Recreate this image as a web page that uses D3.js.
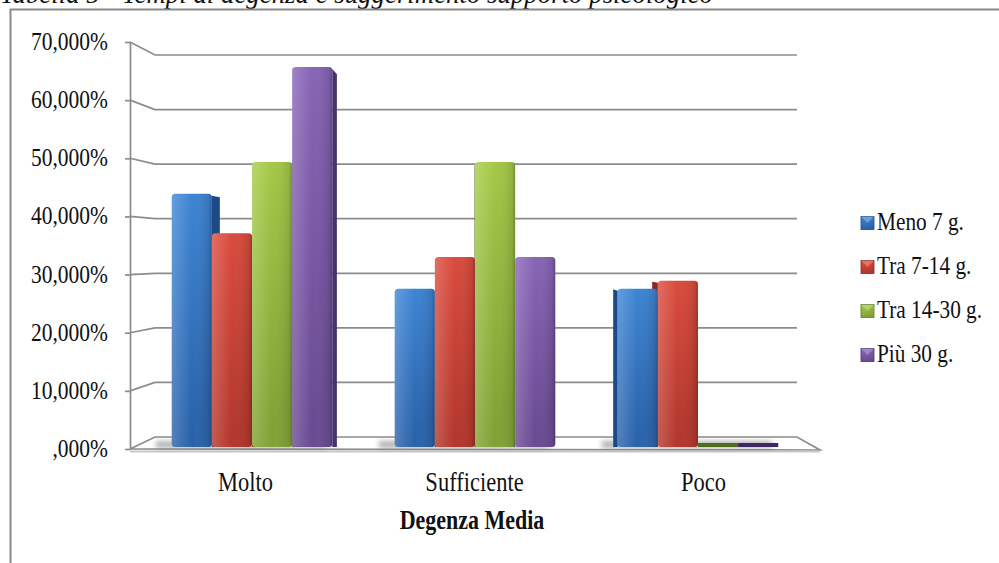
<!DOCTYPE html>
<html><head><meta charset="utf-8">
<script src="https://cdn.jsdelivr.net/npm/d3@7"></script>
<style>html,body{margin:0;padding:0;background:#fff;}svg{display:block;}</style>
</head><body>
<script>
// ---- data ----
const categories = ["Molto", "Sufficiente", "Poco"];
const seriesNames = ["Meno 7 g.", "Tra 7-14 g.", "Tra 14-30 g.", "Più 30 g."];
const meno7 = [44.44, 27.78, 27.78];
const tra7_14 = [37.5, 33.33, 29.17];
const tra14_30 = [50, 50, 0];
const piu30 = [66.67, 33.33, 0];
const tickValues = [0, 10, 20, 30, 40, 50, 60, 70];
const tickLabels = [",000%", "10,000%", "20,000%", "30,000%", "40,000%", "50,000%", "60,000%", "70,000%"];
const titleText = "Tabella 5 - Tempi di degenza e suggerimento supporto psicologico";
const axisTitle = "Degenza Media";

const seriesValues = [meno7, tra7_14, tra14_30, piu30];
const colors = [
  {top:"#4189d8", bot:"#2a62aa", side:"#1d4a86", flat:"#1d4a86"},
  {top:"#de4e40", bot:"#b3372c", side:"#8a2820", flat:"#8a2820"},
  {top:"#a8cd4a", bot:"#80a235", side:"#5d7a22", flat:"#4f6b1d"},
  {top:"#8b68ba", bot:"#6a4b92", side:"#48326e", flat:"#3c2862"}
];

const W = 999, H = 563;
const FONT = "'Liberation Serif','Times New Roman',serif";
const SY = 1.2;
const svg = d3.select("body").append("svg").attr("width", W).attr("height", H)
  .style("font-family", FONT);
svg.append("rect").attr("width", W).attr("height", H).attr("fill", "#fff");

const defs = svg.append("defs");
colors.forEach((c, i) => {
  const g = defs.append("linearGradient").attr("id", "g" + i)
    .attr("x1", 0).attr("y1", 0).attr("x2", 0.25).attr("y2", 1);
  g.append("stop").attr("offset", 0).attr("stop-color", c.top);
  g.append("stop").attr("offset", 1).attr("stop-color", c.bot);
  const h = defs.append("linearGradient").attr("id", "h" + i)
    .attr("x1", 0).attr("y1", 0).attr("x2", 1).attr("y2", 0);
  h.append("stop").attr("offset", 0).attr("stop-color", "#fff").attr("stop-opacity", 0.18);
  h.append("stop").attr("offset", 0.5).attr("stop-color", "#fff").attr("stop-opacity", 0);
  h.append("stop").attr("offset", 0.92).attr("stop-color", "#000").attr("stop-opacity", 0.08);
  h.append("stop").attr("offset", 1).attr("stop-color", "#000").attr("stop-opacity", 0.25);
});
const blur = defs.append("filter").attr("id", "blur").attr("x", -0.2).attr("y", -1).attr("width", 1.4).attr("height", 3);
blur.append("feGaussianBlur").attr("stdDeviation", 2.5);

// ---- title (cut at top, as in the source page) ----
svg.append("text").attr("transform", "translate(0,3) scale(1,1.25)")
  .attr("font-style", "italic").attr("font-size", 22)
  .attr("textLength", 713).attr("lengthAdjust", "spacingAndGlyphs")
  .attr("fill", "#111").text(titleText);

// ---- frame ----
svg.append("path").attr("d", `M10.5,${H} V9.5 H${W}`)
  .attr("fill", "none").attr("stroke", "#8a8a8a").attr("stroke-width", 2);

// ---- scales ----
const yFront = d3.scaleLinear().domain([0, 70]).range([449, 42]);
const yBack = d3.scaleLinear().domain([0, 70]).range([437, 55]);
const yBar = d3.scaleLinear().domain([0, 70]).range([447, 48]);
const xGroup = d3.scaleBand().domain(categories).range([145, 805]).paddingInner(0.28).paddingOuter(0.12);
const xSeries = d3.scaleBand().domain(seriesNames).range([0, xGroup.bandwidth()]);
const xLabel = d3.scalePoint().domain(categories).range([245, 703]);
const wallLeft = 155, wallRight = 797, frontX = 130;
const eyeX = 476, eyeY = 245;

// ---- grid (perspective) ----
const grid = svg.append("g");
tickValues.forEach(t => {
  if (t === 0) return;
  grid.append("path")
    .attr("d", `M${frontX},${yFront(t)} L${wallLeft},${yBack(t)} H${wallRight}`)
    .attr("fill", "none").attr("stroke", "#8c8c8c").attr("stroke-width", 1.7);
});

// ---- floor ----
const floor = svg.append("g");
floor.append("path")
  .attr("d", `M${frontX},${yFront(0)} L${wallLeft},${yBack(0)} H${wallRight} L820,${yFront(0) + 1} Z`)
  .attr("fill", "#fff").attr("stroke", "#8c8c8c").attr("stroke-width", 1.7);
floor.append("path")
  .attr("d", `M${frontX},${yFront(0) + 2.5} H820`)
  .attr("fill", "none").attr("stroke", "#c8c8c8").attr("stroke-width", 2);

// ---- y axis ----
const yAxis = d3.axisLeft(yFront).tickValues(tickValues)
  .tickFormat((d, i) => tickLabels[i]).tickSize(5).tickSizeOuter(0).tickPadding(17);
const ya = svg.append("g").attr("transform", `translate(${frontX},0)`).call(yAxis);
ya.select(".domain").attr("stroke", "#8c8c8c").attr("stroke-width", 1.7);
ya.selectAll(".tick line").attr("stroke", "#8c8c8c").attr("stroke-width", 1.7);
ya.selectAll(".tick text").attr("font-size", 21.5).attr("fill", "#111")
  .attr("font-family", FONT)
  .attr("dy", null).attr("y", 0)
  .attr("transform", `translate(0,7.5) scale(1,${SY})`);

// ---- bars ----
const bars = [];
categories.forEach((c, ci) => {
  seriesNames.forEach((s, si) => {
    bars.push({cat: c, ser: s, si, v: seriesValues[si][ci],
      x: xGroup(c) + xSeries(s), w: xSeries.bandwidth()});
  });
});

// shadows on the floor
categories.forEach(c => {
  svg.append("rect").attr("x", xGroup(c) - 16).attr("y", yBar(0) - 6)
    .attr("width", xGroup.bandwidth() + 10).attr("height", 7)
    .attr("fill", "#777").attr("opacity", 0.55).attr("filter", "url(#blur)");
});

const barG = svg.append("g");
// side faces first
bars.forEach(b => {
  if (b.v <= 0) return;
  const yt = yBar(b.v), yb = yBar(0);
  const cx = b.x + b.w / 2;
  const s = (eyeX - cx) * 0.028;
  const dy = (eyeY - yt) * 0.03;
  const xe = s > 0 ? b.x + b.w : b.x;
  barG.append("path")
    .attr("d", `M${xe},${yt + 2} L${xe + s},${yt + 2 + dy} L${xe + s},${yb} L${xe},${yb} Z`)
    .attr("fill", colors[b.si].side);
});
// front faces
bars.forEach(b => {
  const yb = yBar(0);
  if (b.v <= 0) {
    barG.append("rect").attr("x", b.x).attr("y", yb - 4).attr("width", b.w).attr("height", 4)
      .attr("fill", colors[b.si].flat);
    return;
  }
  const yt = yBar(b.v);
  barG.append("rect").attr("x", b.x).attr("y", yt).attr("width", b.w).attr("height", yb - yt)
    .attr("rx", 3.5).attr("fill", `url(#g${b.si})`);
  barG.append("rect").attr("x", b.x).attr("y", yt).attr("width", b.w).attr("height", yb - yt)
    .attr("rx", 3.5).attr("fill", `url(#h${b.si})`);
});

// ---- x axis labels ----
const xAxis = d3.axisBottom(xLabel).tickSize(0).tickPadding(0);
const xa = svg.append("g").call(xAxis);
xa.select(".domain").remove();
xa.selectAll(".tick text").attr("font-size", 22.5).attr("fill", "#111")
  .attr("font-family", FONT)
  .attr("dy", null).attr("y", 0)
  .attr("transform", `translate(0,491) scale(1,${SY})`);

svg.append("text").attr("transform", `translate(472,529) scale(1,${SY})`)
  .attr("text-anchor", "middle").attr("font-weight", "bold").attr("font-size", 22)
  .attr("fill", "#111").text(axisTitle);

// ---- legend ----
const legendY = d3.scalePoint().domain(seriesNames).range([223, 355]);
const lg = svg.append("g");
seriesNames.forEach((s, i) => {
  const y = legendY(s);
  lg.append("rect").attr("x", 861).attr("y", y - 6.5).attr("width", 13).attr("height", 13)
    .attr("fill", `url(#g${i})`).attr("stroke", colors[i].side).attr("stroke-width", 0.8);
  lg.append("path").attr("d", `M861,${y - 6.5} L867.5,${y} L874,${y - 6.5} Z`)
    .attr("fill", "#fff").attr("opacity", 0.25);
  lg.append("text").attr("transform", `translate(877,${y + 7}) scale(1,${SY})`)
    .attr("font-size", 21.3).attr("fill", "#111").text(s);
});
</script>
</body></html>
